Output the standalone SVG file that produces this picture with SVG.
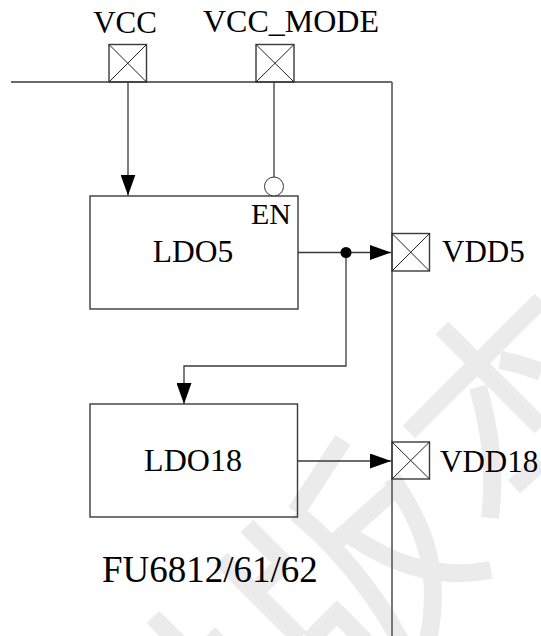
<svg xmlns="http://www.w3.org/2000/svg" width="541" height="636" viewBox="0 0 541 636">
<style>
.w{fill:none;stroke:#ebebeb;stroke-width:18}
.l{fill:none;stroke:#3a3a3a;stroke-width:1.3}
.r{fill:none;stroke:#777;stroke-width:2}
.b{fill:none;stroke:#3a3a3a;stroke-width:1.4}
.x{fill:none;stroke:#222;stroke-width:1}
text{font-family:"Liberation Serif","Times New Roman",serif;fill:#000}
</style>
<defs><marker id="a" markerUnits="userSpaceOnUse" markerWidth="21" markerHeight="15" refX="21" refY="7.500" orient="auto"><path d="M0 0L21 7.500L0 15Z" fill="#000"/></marker></defs>
<rect width="541" height="636" fill="#fff"/>
<g id="watermark">
<path class="w" d="M409 432L541 300M442 328L541 427M478 387C490 430 496 470 490 518M500 360C515 362 530 368 541 372M514 487L541 462"/>
<path class="w" d="M343 440L296 512M296 513C330 540 370 585 400 640M247 526L285 564M284 563L255 592M221 559L300 638M310 640L337 613L365 641M195 660L215 640L235 660M153 617L185 649M397 487L338 540M352 537C385 558 430 582 491 570M392 478C415 515 445 560 428 640"/>
</g>
<g id="connectors">
<path class="l" d="M11 82H392"/>
<path class="r" d="M392 82V636"/>
<path class="l" d="M128 82V195.500" marker-end="url(#a)"/>
<path class="l" d="M274 82V177"/>
<path class="l" d="M298 252.500H391" marker-end="url(#a)"/>
<path class="l" d="M346 252.500V366H184V404" marker-end="url(#a)"/>
<path class="l" d="M298 461H391" marker-end="url(#a)"/>
<circle cx="346" cy="252.500" r="5.500" fill="#000"/>
</g>
<g id="pad-vcc"><rect class="b" x="109" y="44.500" width="37.500" height="37.500"/><path class="x" d="M109 44.500L146.500 82M146.500 44.500L109 82"/><text x="125" y="33" text-anchor="middle" font-size="31">VCC</text></g>
<g id="pad-vcc-mode"><rect class="b" x="256" y="44.500" width="38" height="37.500"/><path class="x" d="M256 44.500L294 82M294 44.500L256 82"/><text x="291" y="32" text-anchor="middle" font-size="32">VCC_MODE</text></g>
<g id="ldo5"><rect class="b" x="90" y="196" width="208" height="113"/><text x="193" y="262" text-anchor="middle" font-size="31.500">LDO5</text><text x="271" y="224" text-anchor="middle" font-size="30">EN</text></g>
<g id="en-bubble"><circle cx="274" cy="186.500" r="9.500" fill="#fff" stroke="#333" stroke-width="1"/></g>
<g id="pad-vdd5"><rect class="b" x="392" y="233.500" width="37.500" height="37.500"/><path class="x" d="M392 233.500L429.500 271M429.500 233.500L392 271"/><text x="442" y="262" font-size="31">VDD5</text></g>
<g id="ldo18"><rect class="b" x="90" y="404" width="207.500" height="113"/><text x="193" y="471" text-anchor="middle" font-size="32">LDO18</text></g>
<g id="pad-vdd18"><rect class="b" x="392" y="442" width="37.500" height="37"/><path class="x" d="M392 442L429.500 479M429.500 442L392 479"/><text x="440" y="472" font-size="31">VDD18</text></g>
<g id="chip-label"><text x="102" y="582" font-size="37">FU6812/61/62</text></g>
</svg>
